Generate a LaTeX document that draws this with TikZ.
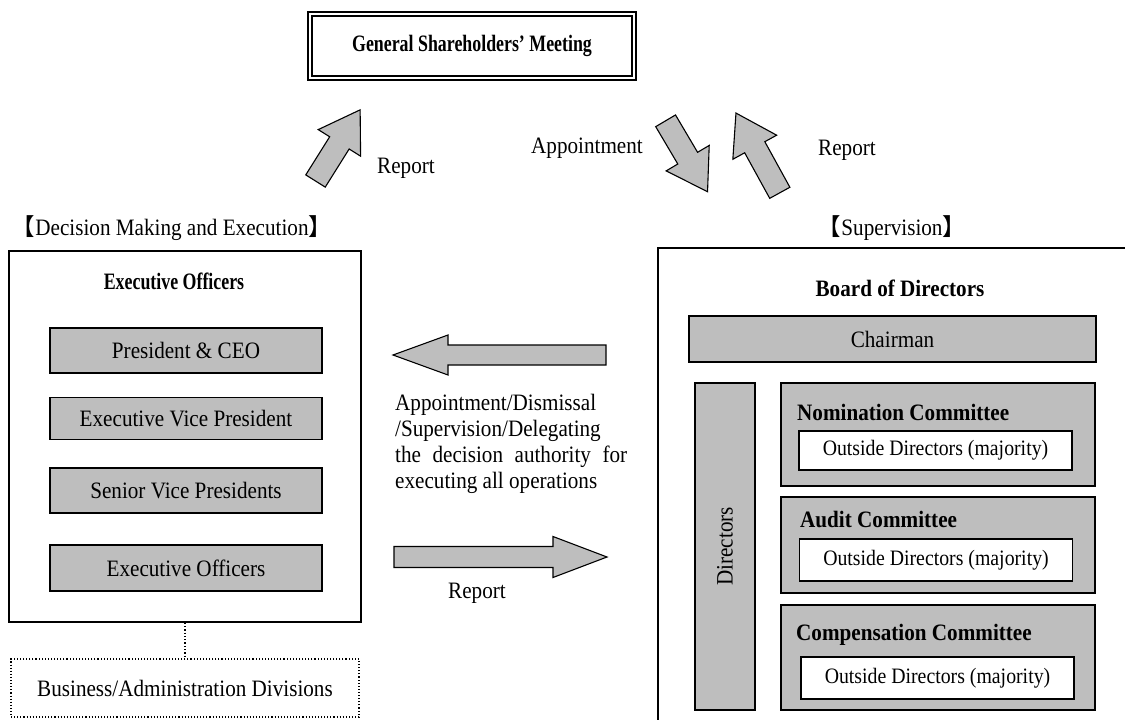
\documentclass[tikz,border=0pt]{standalone}
\usepackage{fontspec}
\setmainfont[FakeStretch=0.9]{Liberation Serif}
\newfontfamily\narrowfont[FakeStretch=0.76]{Liberation Serif}
\newfontfamily\cjk{Noto Sans CJK JP}
\definecolor{boxgray}{RGB}{190,190,190}
\begin{document}
\begin{tikzpicture}[x=1pt,y=-1pt,
  every node/.style={font=\fontsize{23.5}{26}\selectfont, inner sep=0pt},
  frame/.style={draw=black, line width=1.3pt},
  graybox/.style={frame, fill=boxgray},
  whitebox/.style={frame, fill=white, font=\fontsize{22}{26}\selectfont},
  title/.style={font=\fontsize{23.5}{26}\selectfont\bfseries},
  narrowtitle/.style={font=\narrowfont\fontsize{23.5}{26}\selectfont\bfseries},
  blockarrow/.style={draw=black, line width=1.1pt, fill=boxgray, line join=miter}
]
\newcommand\barrow[3]{% tail, angle, length
  \draw[blockarrow, shift={#1}, rotate=#2]
    (0,-11.5) -- ({#3-39},-11.5) -- ({#3-39},-25) -- (#3,0) -- ({#3-39},25) -- ({#3-39},11.5) -- (0,11.5) -- cycle;}
\useasboundingbox (0,0) rectangle (1125,720);

% top
\node[draw=black, line width=2pt, minimum width=328pt, minimum height=68pt] (gsm) at (472,46) {};
\draw[line width=1.2pt] ([shift={(5,5)}]gsm.north west) rectangle ([shift={(-5,-5)}]gsm.south east);
\node[narrowtitle] at (gsm.center) {General Shareholders’ Meeting};

\barrow{(315.5,181)}{57.9}{84}
\barrow{(665.6,120.8)}{-59.4}{82.4}
\barrow{(779.8,192.8)}{118.8}{91}
\node (rep1) at (406,168) {Report};
\node[anchor=east] (appt) at (643,148) {Appointment};
\node (rep2) at (847,150) {Report};

% left panel
\node (lhead) at (172,228) {{\cjk 【}Decision Making and Execution{\cjk 】}};
\node[frame, minimum width=352pt, minimum height=371pt] (exec) at (185,436.5) {};
\node[narrowtitle] (exectitle) at (174,281) {Executive Officers};
\node[graybox, minimum width=272pt, minimum height=45pt] (pres) at (186,350.5) {President \& CEO};
\node[graybox, minimum width=272pt, minimum height=42pt] (evp) at (186,418.5) {Executive Vice President};
\node[graybox, minimum width=272pt, minimum height=45pt] (svp) at (186,490.5) {Senior Vice Presidents};
\node[graybox, minimum width=272pt, minimum height=46pt] (eo) at (186,568) {Executive Officers};
\node[draw=black, dotted, line width=1.1pt, minimum width=348pt, minimum height=58pt] (bad) at (185,688) {Business/Administration Divisions};
\draw[dotted, line width=1.3pt] (exec.south) -- (bad.north);

% middle arrows
\draw[blockarrow] (606,345) -- (448,345) -- (448,335) -- (393,355) -- (448,375) -- (448,365) -- (606,365) -- cycle;
\draw[blockarrow] (394,546.5) -- (553,546.5) -- (553,536.5) -- (607,557) -- (553,577.5) -- (553,567.5) -- (394,567.5) -- cycle;
\node[anchor=north west, align=left] (para) at (395,394) {Appointment/Dismissal\\/Supervision/Delegating\\\makebox[232pt][s]{the decision authority for}\\executing all operations};
\node (rep3) at (477,593) {Report};

% right panel
\draw[line width=1.3pt] (658,721) -- (658,248) -- (1126,248);
\node (rhead) at (892,228) {{\cjk 【}Supervision{\cjk 】}};
\node[title] (bod) at (900,288) {Board of Directors};
\node[graybox, minimum width=407pt, minimum height=46pt] (chair) at (892.5,339) {Chairman};
\node[graybox, minimum width=60pt, minimum height=327pt] (dirs) at (725,546.5) {};
\node[rotate=90] at (dirs.center) {Directors};

\node[graybox, minimum width=314pt, minimum height=103pt] (nom) at (938,434.5) {};
\node[title, anchor=west] at (797,412) {Nomination Committee};
\node[whitebox, minimum width=273pt, minimum height=39pt] (nomw) at (935.5,450.5) {Outside Directors (majority)};

\node[graybox, minimum width=314pt, minimum height=96pt] (aud) at (938,545) {};
\node[title, anchor=west] at (800,519) {Audit Committee};
\node[whitebox, minimum width=273pt, minimum height=42pt] (audw) at (936,560) {Outside Directors (majority)};

\node[graybox, minimum width=314pt, minimum height=105pt] (comp) at (938,657.5) {};
\node[title, anchor=west] at (796,635) {Compensation Committee};
\node[whitebox, minimum width=273pt, minimum height=42pt] (compw) at (937.5,678) {Outside Directors (majority)};
\end{tikzpicture}
\end{document}
